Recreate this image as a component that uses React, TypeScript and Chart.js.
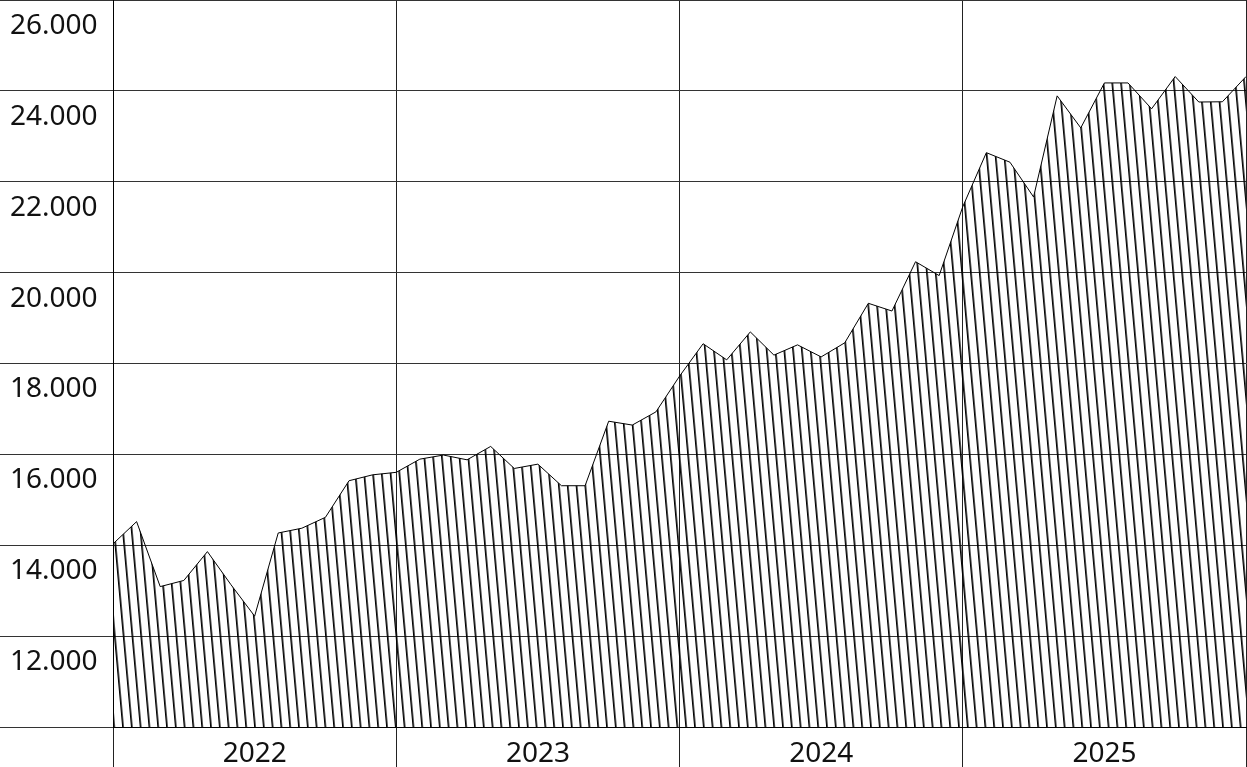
import React, { useEffect, useRef } from 'react';
import { Chart, registerables, LinearScale } from 'chart.js';

Chart.register(...registerables);

// Y scale whose labels are drawn 10px in from the left edge of the canvas
class ShiftedLinearScale extends LinearScale {
  drawLabels(area: any) {
    const ctx = (this as any).ctx as CanvasRenderingContext2D;
    ctx.save();
    ctx.translate(10, 0);
    super.drawLabels(area);
    ctx.restore();
  }
}
(ShiftedLinearScale as any).id = 'shiftedLinear';
(ShiftedLinearScale as any).defaults = (LinearScale as any).defaults;
Chart.register(ShiftedLinearScale as any);

// Year labels on the x axis (one per 12 months)
const years = ['2022', '2023', '2024', '2025'];

// Monthly values, Jan 2022 .. Jan 2026
const values = [
  14030, 14520, 13090, 13225, 13860, 13130, 12440, 14270, 14375, 14615, 15420, 15550,
  15605, 15895, 15985, 15880, 16175, 15690, 15785, 15310, 15310, 16730, 16645, 16935,
  17720, 18435, 18080, 18695, 18185, 18410, 18145, 18455, 19325, 19155, 20240, 19935,
  21450, 22640, 22430, 21665, 23890, 23185, 24175, 24175, 23605, 24315, 23755, 23760,
  24315,
];

const yMin = 10000;
const yMax = 26000;
const yStep = 2000;

const fmt = (v: number) => String(v).replace(/\B(?=(\d{3})+(?!\d))/g, '.');

function makeHatch(): CanvasPattern | string {
  const tile = document.createElement('canvas');
  tile.width = 9;
  tile.height = 9;
  const tctx = tile.getContext('2d');
  if (!tctx) return 'rgba(0,0,0,0.1)';
  tctx.fillStyle = '#000';
  tctx.fillRect(4, 0, 1.7, 9);
  const pat = tctx.createPattern(tile, 'repeat');
  if (!pat) return 'rgba(0,0,0,0.1)';
  try {
    pat.setTransform(new DOMMatrix([8.8 / 9, 0, 0.09, 1, 0, 0]));
  } catch (e) {
    /* ignore */
  }
  return pat;
}

export default function App() {
  const ref = useRef<HTMLCanvasElement | null>(null);

  useEffect(() => {
    if (!ref.current) return;
    const font = { family: 'Noto Sans', size: 28 };
    const chart = new Chart(ref.current, {
      type: 'line',
      data: {
        datasets: [
          {
            data: values.map((v, i) => ({ x: i, y: v })),
            borderColor: '#000',
            borderWidth: 1,
            pointRadius: 0,
            tension: 0,
            fill: 'start',
            backgroundColor: makeHatch() as any,
          },
        ],
      },
      options: {
        animation: false,
        responsive: false,
        layout: { padding: { left: 0, right: 1, top: 0, bottom: 0 } },
        plugins: { legend: { display: false }, tooltip: { enabled: false } },
        scales: {
          x: {
            type: 'linear',
            min: 0,
            max: years.length * 12,
            afterFit: (s: any) => {
              s.height = 40;
              s.paddingLeft = 0;
              s.paddingRight = 0;
            },
            border: { display: true, color: '#000', width: 1 },
            grid: { color: '#222', lineWidth: 1, drawTicks: true, tickLength: 40, tickColor: '#222' },
            ticks: {
              stepSize: 12,
              autoSkip: false,
              maxRotation: 0,
              labelOffset: 141.75,
              padding: -30,
              color: '#111',
              font,
              callback: (v: any) => years[Number(v) / 12] ?? '',
            },
          },
          y: {
            type: 'shiftedLinear' as any,
            min: yMin,
            max: yMax,
            afterFit: (s: any) => {
              s.width = 113;
              s.paddingTop = 0;
              s.paddingBottom = 0;
            },
            border: { display: true, color: '#000', width: 1 },
            grid: { color: '#333', lineWidth: 1, drawTicks: true, tickLength: 113, tickColor: '#333' },
            ticks: {
              stepSize: yStep,
              crossAlign: 'far',
              labelOffset: 26,
              color: '#111',
              font,
              callback: (v: any) => (Number(v) === yMin ? '' : fmt(Number(v))),
            },
          },
        },
      } as any,
    });
    return () => chart.destroy();
  }, []);

  return (
    <div style={{ position: 'fixed', left: 0, top: 0, width: 1247, height: 767, background: '#fff' }}>
      <canvas ref={ref} width={1247} height={767} style={{ display: 'block' }} />
    </div>
  );
}
